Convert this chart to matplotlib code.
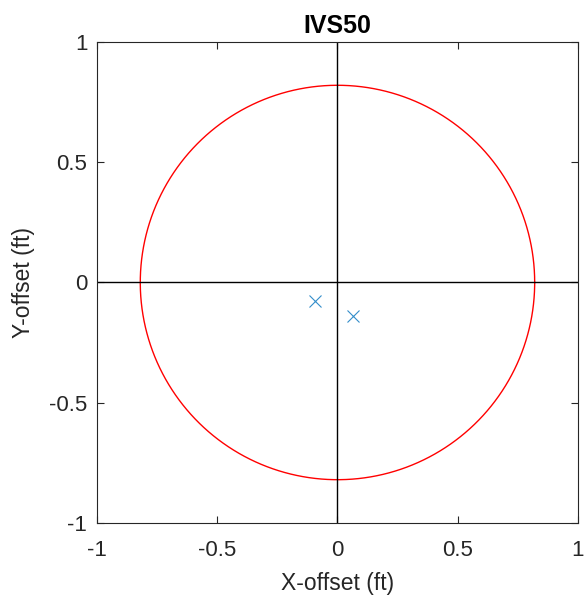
import numpy as np
import matplotlib
matplotlib.use('Agg')
import matplotlib.pyplot as plt

plt.rcParams['font.family'] = ['Liberation Sans', 'DejaVu Sans']

# offsets of the hits (ft)
x_off = [-0.094, 0.064]
y_off = [-0.077, -0.139]
radius = 0.82   # tolerance circle (ft)
title = 'IVS50'

fig = plt.figure(figsize=(5.86, 5.99), dpi=100)
ax = fig.add_axes([0.1655, 0.1269, 0.8208, 0.803])

theta = np.linspace(0, 2 * np.pi, 400)
ax.plot(radius * np.cos(theta), radius * np.sin(theta), color='red', lw=1.0)
ax.axhline(0, color='black', lw=1.0)
ax.axvline(0, color='black', lw=1.0)
ax.plot(x_off, y_off, 'x', color='#0072BD', ms=8, mew=0.8, alpha=0.8)

ax.set_xlim(-1, 1)
ax.set_ylim(-1, 1)
ticks = [-1, -0.5, 0, 0.5, 1]
tick_labels = ['-1', '-0.5', '0', '0.5', '1']
ax.set_xticks(ticks)
ax.set_xticklabels(tick_labels)
ax.set_yticks(ticks)
ax.set_yticklabels(tick_labels)
ax.tick_params(direction='in', top=True, right=True, labelsize=16,
               length=5, width=0.8, color='#262626', labelcolor='#262626')
ax.tick_params(axis='x', pad=12)
ax.tick_params(axis='y', pad=7)
for s in ax.spines.values():
    s.set_linewidth(0.8)
    s.set_color('#262626')

ax.set_xlabel('X-offset (ft)', fontsize=16.5, color='#262626', labelpad=8)
ax.set_ylabel('Y-offset (ft)', fontsize=16.5, color='#262626', labelpad=10)
ax.set_title(title, fontsize=18, fontweight='bold', pad=6.5)

fig.savefig('out.png', dpi=100)
